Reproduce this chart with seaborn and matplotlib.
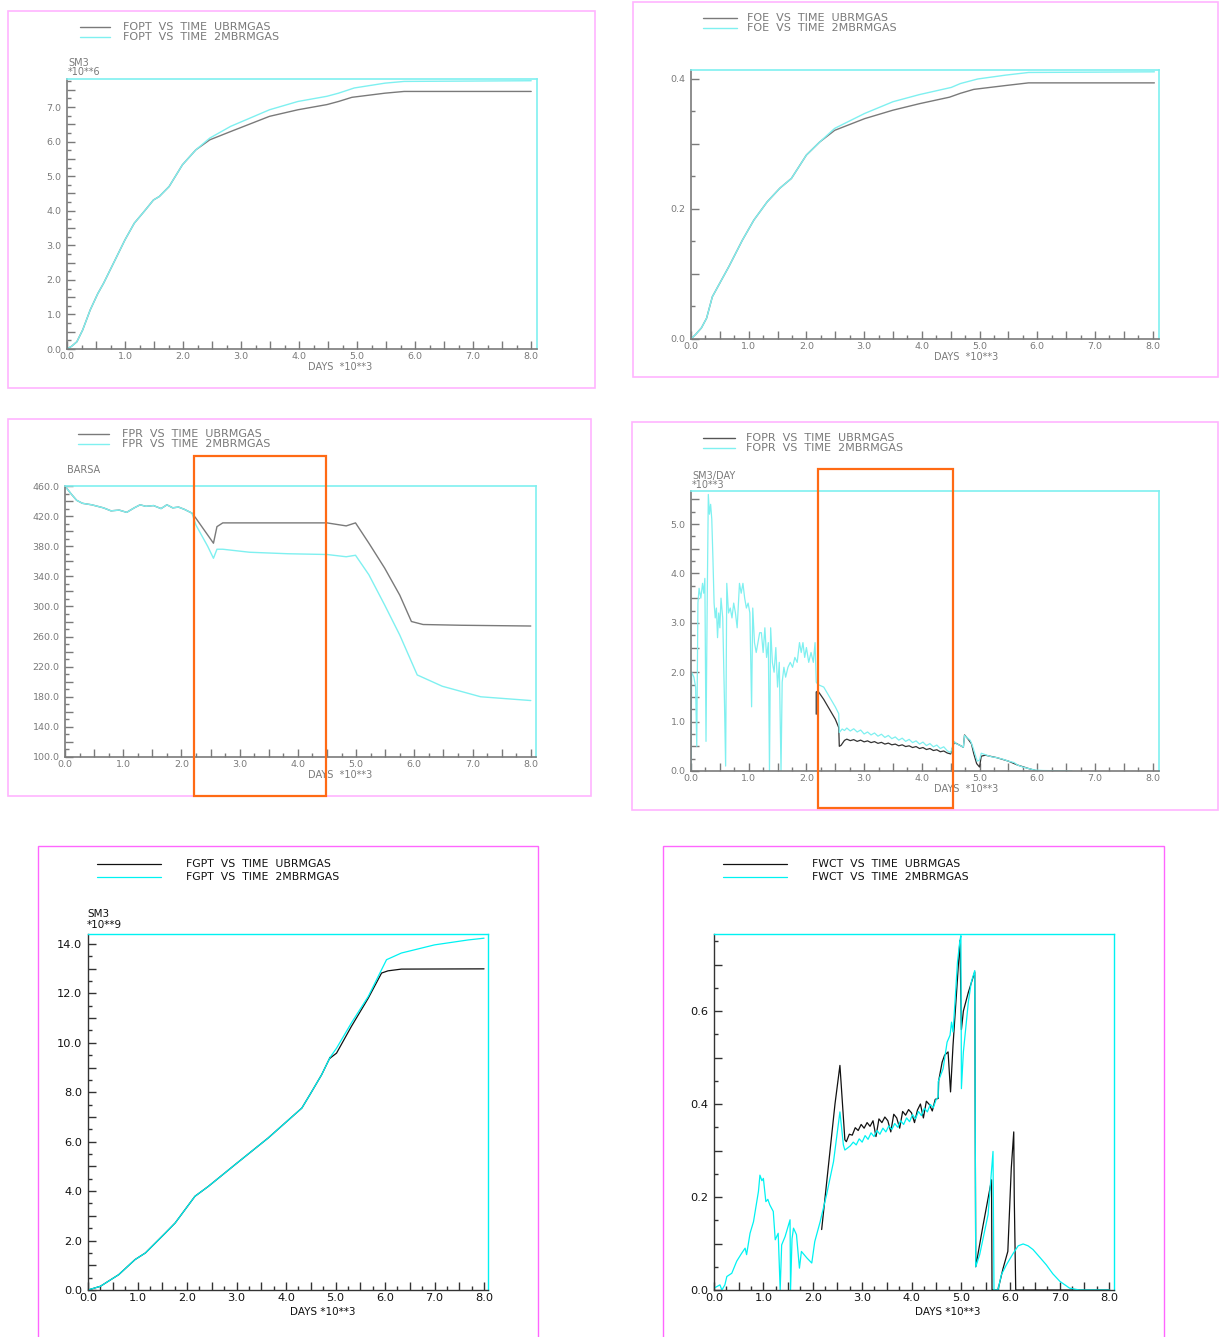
import matplotlib
matplotlib.use("Agg")
import matplotlib.pyplot as plt
import seaborn as sns
from matplotlib.ticker import MultipleLocator, FuncFormatter
from matplotlib.patches import Rectangle
from matplotlib.lines import Line2D

sns.set_style("white")
plt.rcParams["font.family"] = ["DejaVu Sans"]

# ---------------- data (time in 10**3 days) ----------------
# FOPT, SM3 *10**6
fopt_early_t = [0, 0.08, 0.17, 0.27, 0.40, 0.53, 0.63, 0.83, 1.00, 1.16, 1.33, 1.49, 1.59, 1.76, 1.99, 2.22]
fopt_early = [0, 0.08, 0.21, 0.55, 1.13, 1.60, 1.90, 2.58, 3.16, 3.64, 3.98, 4.31, 4.41, 4.70, 5.33, 5.76]
fopt_ub_t = [2.46, 2.82, 3.49, 3.98, 4.48, 4.68, 4.91, 5.48, 5.81, 8.0]
fopt_ub = [6.05, 6.29, 6.73, 6.92, 7.07, 7.16, 7.28, 7.40, 7.45, 7.45]
fopt_2m_t = [2.46, 2.82, 3.49, 3.98, 4.48, 4.68, 4.95, 5.48, 5.81, 8.0]
fopt_2m = [6.10, 6.44, 6.92, 7.16, 7.31, 7.40, 7.55, 7.69, 7.74, 7.76]

# FOE, fraction
foe_early_t = [0, 0.08, 0.18, 0.27, 0.37, 0.53, 0.66, 0.89, 1.09, 1.32, 1.54, 1.74, 2.00, 2.23]
foe_early = [0, 0.007, 0.017, 0.032, 0.065, 0.091, 0.112, 0.152, 0.183, 0.211, 0.232, 0.247, 0.283, 0.303]
foe_ub_t = [2.49, 3.01, 3.50, 3.96, 4.48, 4.67, 4.90, 5.46, 5.85, 8.03]
foe_ub = [0.321, 0.339, 0.352, 0.362, 0.372, 0.378, 0.384, 0.390, 0.394, 0.394]
foe_2m_t = [2.49, 3.01, 3.50, 3.96, 4.51, 4.67, 4.97, 5.46, 5.85, 8.03]
foe_2m = [0.324, 0.347, 0.365, 0.376, 0.387, 0.393, 0.400, 0.406, 0.410, 0.411]

# FPR, BARSA
fpr_early_t = [0, 0.10, 0.20, 0.30, 0.46, 0.66, 0.79, 0.93, 1.06, 1.19, 1.29, 1.39,
               1.52, 1.65, 1.75, 1.85, 1.95, 2.05, 2.18]
fpr_early = [460, 450, 441, 437, 435, 431, 427, 428, 425, 431, 435, 433,
             434, 430, 435, 431, 432, 429, 424]
fpr_ub_t = [2.25, 2.55, 2.61, 2.71, 3.50, 4.50, 4.83, 4.99, 5.22, 5.49, 5.75, 5.95, 6.15, 6.81, 8.0]
fpr_ub = [417, 384, 406, 411, 411, 411, 407, 411, 384, 351, 315, 280, 276, 275, 274]
fpr_2m_t = [2.25, 2.45, 2.55, 2.61, 2.71, 3.17, 3.83, 4.50, 4.83, 4.99, 5.22, 5.49,
            5.75, 6.05, 6.48, 7.14, 8.0]
fpr_2m = [408, 380, 364, 376, 376, 372, 370, 369, 366, 368, 342, 302,
          262, 209, 194, 180, 175]

# FOPR, SM3/DAY *10**3
fopr_2m_t = [0.00, 0.01, 0.05, 0.08, 0.10, 0.12, 0.14, 0.17, 0.20, 0.22, 0.24, 0.26, 0.28, 0.30,
             0.32, 0.34, 0.36, 0.38, 0.40, 0.42, 0.44, 0.46, 0.48, 0.50, 0.52, 0.55, 0.58, 0.60,
             0.62, 0.65, 0.68, 0.71, 0.74, 0.77, 0.80, 0.84, 0.87, 0.90, 0.93, 0.96, 0.99, 1.02,
             1.05, 1.07, 1.10, 1.13, 1.16, 1.19, 1.22, 1.25, 1.28, 1.31, 1.34, 1.36, 1.38, 1.41,
             1.44, 1.47, 1.50, 1.53, 1.56, 1.58, 1.61, 1.64, 1.68, 1.72, 1.76, 1.80, 1.84, 1.88,
             1.91, 1.94, 1.97, 2.00, 2.04, 2.08, 2.12, 2.15, 2.17, 2.20, 2.30, 2.40, 2.50, 2.56,
             2.57, 2.62, 2.66,
             2.70, 2.76, 2.82, 2.88, 2.94, 3.00, 3.06, 3.12, 3.18, 3.24, 3.30, 3.36, 3.42, 3.48,
             3.54, 3.60, 3.66, 3.72, 3.78, 3.84, 3.90, 3.96, 4.02, 4.08, 4.14, 4.20, 4.26, 4.32,
             4.38, 4.44, 4.50,
             4.56, 4.60, 4.66, 4.72, 4.74, 4.78, 4.84, 4.88, 4.92, 4.96, 5.00, 5.03, 5.10, 5.20,
             5.30, 5.40, 5.50, 5.60, 5.66, 5.75, 5.85, 5.95, 6.10, 6.60]
fopr_2m = [0.0, 2.0, 1.9, 1.7, 0.5, 3.4, 3.7, 3.5, 3.8, 3.6, 3.9, 0.6, 3.3, 5.6,
           5.2, 5.4, 5.1, 4.3, 3.4, 3.1, 3.3, 2.7, 3.2, 2.9, 3.5, 3.1, 1.4, 0.1,
           3.8, 3.2, 3.3, 3.1, 3.4, 3.2, 2.9, 3.8, 3.6, 3.8, 3.5, 3.3, 3.4, 3.2,
           1.3, 3.3, 2.6, 2.4, 2.6, 2.8, 2.8, 2.4, 2.9, 2.3, 2.6, 0.0, 2.9, 2.2,
           2.0, 2.5, 1.7, 2.2, 0.0, 1.8, 2.1, 1.9, 2.1, 2.2, 2.1, 2.3, 2.2, 2.6,
           2.4, 2.6, 2.3, 2.5, 2.2, 2.4, 2.2, 2.6, 1.8, 1.75, 1.70, 1.50, 1.30, 1.16,
           0.78, 0.85, 0.82,
           0.870, 0.810, 0.855, 0.790, 0.830, 0.750, 0.790, 0.730, 0.770, 0.705, 0.745, 0.680,
           0.720, 0.655, 0.690, 0.625, 0.665, 0.600, 0.640, 0.575, 0.610, 0.545, 0.585, 0.515,
           0.555, 0.490, 0.525, 0.455, 0.490, 0.410, 0.370,
           0.60, 0.55, 0.52, 0.48, 0.72, 0.68, 0.62, 0.50, 0.35, 0.20, 0.22, 0.36, 0.33, 0.29,
           0.27, 0.24, 0.20, 0.17, 0.12, 0.08, 0.05, 0.02, 0.01, 0.0]
fopr_ub_t = [2.17, 2.17, 2.20, 2.30, 2.40, 2.50, 2.56, 2.57, 2.60, 2.66,
             2.70, 2.76, 2.82, 2.88, 2.94, 3.00, 3.06, 3.12, 3.18, 3.24, 3.30, 3.36, 3.42, 3.48,
             3.54, 3.60, 3.66, 3.72, 3.78, 3.84, 3.90, 3.96, 4.02, 4.08, 4.14, 4.20, 4.26, 4.32,
             4.38, 4.44, 4.50,
             4.56, 4.66, 4.72, 4.74, 4.80, 4.86, 4.90, 4.95, 5.00, 5.03, 5.10, 5.30, 5.50, 5.66,
             5.85, 6.00, 6.10]
fopr_ub = [1.15, 1.60, 1.62, 1.45, 1.25, 1.05, 0.88, 0.50, 0.52, 0.62,
           0.645, 0.615, 0.635, 0.600, 0.625, 0.590, 0.610, 0.575, 0.595, 0.560, 0.580, 0.545,
           0.565, 0.530, 0.545, 0.510, 0.530, 0.495, 0.510, 0.475, 0.495, 0.455, 0.475, 0.435,
           0.455, 0.415, 0.430, 0.390, 0.405, 0.365, 0.345,
           0.58, 0.52, 0.48, 0.73, 0.65, 0.55, 0.35, 0.15, 0.08, 0.30, 0.32, 0.27, 0.20, 0.12,
           0.05, 0.0, 0.0]

# FGPT, SM3 *10**9
fgpt_early_t = [0, 0.25, 0.62, 0.95, 1.16, 1.56, 1.76, 2.16, 2.43, 2.97, 3.64, 4.32, 4.50, 4.72, 4.89]
fgpt_early = [0, 0.15, 0.62, 1.23, 1.50, 2.30, 2.71, 3.79, 4.19, 5.07, 6.15, 7.36, 7.96, 8.71, 9.41]
fgpt_ub_t = [4.89, 5.02, 5.32, 5.66, 5.93, 6.06, 6.33, 8.0]
fgpt_ub = [9.38, 9.58, 10.66, 11.80, 12.82, 12.91, 12.98, 12.99]
fgpt_2m_t = [5.02, 5.32, 5.66, 6.03, 6.33, 7.00, 7.68, 8.0]
fgpt_2m = [9.78, 10.80, 11.87, 13.36, 13.63, 13.96, 14.16, 14.23]

# FWCT, fraction
fwct_2m_t = [0.00, 0.12, 0.16, 0.22, 0.26, 0.36, 0.46, 0.56, 0.63, 0.66, 0.73, 0.80, 0.90, 0.93,
             0.97, 1.00, 1.05, 1.09, 1.13, 1.20, 1.24, 1.30, 1.34, 1.37, 1.44, 1.54, 1.55, 1.58,
             1.61, 1.67, 1.73, 1.77, 1.88, 1.98, 2.04, 2.15, 2.28, 2.42, 2.55, 2.62, 2.65, 2.70,
             2.76, 2.82, 2.88, 2.94, 3.00, 3.06, 3.12, 3.18, 3.24, 3.30, 3.36, 3.42, 3.48, 3.54,
             3.60, 3.66, 3.72, 3.78, 3.84, 3.90, 3.96, 4.02, 4.08, 4.14, 4.20, 4.26, 4.32, 4.38,
             4.44, 4.50,
             4.54, 4.54, 4.64, 4.72, 4.78, 4.81, 4.84, 4.88, 4.93, 4.98, 5.00, 5.01, 5.05, 5.15,
             5.21, 5.28, 5.30, 5.38, 5.55, 5.65, 5.67, 5.75, 5.82, 5.92, 6.06, 6.16, 6.26, 6.36,
             6.46, 6.60, 6.73, 6.86, 7.00, 7.20, 7.40, 8.01]
fwct_2m = [0.004, 0.011, 0.000, 0.011, 0.029, 0.036, 0.062, 0.079, 0.090, 0.076, 0.122, 0.147, 0.212, 0.247,
           0.235, 0.240, 0.190, 0.195, 0.183, 0.169, 0.108, 0.122, 0.000, 0.097, 0.115, 0.151, 0.000, 0.110,
           0.133, 0.119, 0.047, 0.083, 0.069, 0.058, 0.104, 0.147, 0.205, 0.276, 0.383, 0.312, 0.301, 0.305,
           0.310, 0.318, 0.312, 0.325, 0.318, 0.332, 0.324, 0.338, 0.330, 0.343, 0.335, 0.348, 0.340, 0.353,
           0.345, 0.358, 0.350, 0.364, 0.356, 0.370, 0.362, 0.377, 0.368, 0.384, 0.375, 0.391, 0.383, 0.399,
           0.392, 0.410,
           0.415, 0.448, 0.476, 0.533, 0.548, 0.576, 0.555, 0.619, 0.705, 0.752, 0.762, 0.433, 0.512, 0.619,
           0.662, 0.687, 0.050, 0.076, 0.162, 0.298, 0.000, 0.000, 0.033, 0.054, 0.079, 0.095, 0.099, 0.095,
           0.087, 0.070, 0.054, 0.035, 0.019, 0.004, 0.000, 0.000]
fwct_ub_t = [2.18, 2.30, 2.45, 2.55, 2.65, 2.68,
             2.74, 2.80, 2.86, 2.92, 2.98, 3.04, 3.10, 3.16, 3.22, 3.28, 3.34, 3.40, 3.46, 3.52,
             3.58, 3.64, 3.70, 3.76, 3.82, 3.88, 3.94, 4.00, 4.06, 4.12, 4.18, 4.24, 4.30, 4.36,
             4.42, 4.48,
             4.54, 4.55, 4.62, 4.67, 4.74, 4.79, 4.84, 4.93, 4.98, 5.01, 5.05, 5.15, 5.28, 5.30,
             5.45, 5.62, 5.63, 5.75, 5.85, 5.95, 6.02, 6.07, 6.08, 6.11, 8.01]
fwct_ub = [0.130, 0.250, 0.400, 0.483, 0.323, 0.319,
           0.335, 0.333, 0.349, 0.343, 0.356, 0.348, 0.360, 0.352, 0.364, 0.330, 0.368, 0.360, 0.372, 0.364,
           0.340, 0.378, 0.370, 0.348, 0.384, 0.376, 0.388, 0.381, 0.360, 0.387, 0.400, 0.370, 0.406, 0.399,
           0.385, 0.410,
           0.412, 0.450, 0.490, 0.505, 0.512, 0.426, 0.526, 0.669, 0.752, 0.560, 0.600, 0.640, 0.684, 0.050,
           0.140, 0.237, 0.000, 0.000, 0.045, 0.083, 0.262, 0.340, 0.200, 0.000, 0.000]

# ---------------- figure layout (pixel based) ----------------
W, H = 1220, 1337
fig = plt.figure(figsize=(W / 100, H / 100), dpi=100)

GRAY = "#7a7a7a"
CYAN_SOFT = "#7ff0f0"
CYAN = "#00f2f2"
PINK_SOFT = "#ffb4ff"
PINK = "#ff66ff"
ORANGE = "#ff6a14"


def fx(x):
    return x / W


def fy(y):
    return 1 - y / H


def px_axes(l, t, r, b):
    ax = fig.add_axes([fx(l), fy(b), (r - l) / W, (b - t) / H])
    ax.patch.set_alpha(0)
    return ax


def frame(l, t, r, b, color, lw, z=0):
    fig.add_artist(Rectangle((fx(l), fy(b)), (r - l) / W, (b - t) / H,
                             transform=fig.transFigure, fill=False,
                             edgecolor=color, lw=lw, zorder=z))


def ftext(x, y, s, **kw):
    fig.text(fx(x), fy(y), s, **kw)


def legend(x0, x1, xt, y1, y2, name, c1, c2, tc, fs, lw):
    for y, c, run in ((y1, c1, "UBRMGAS"), (y2, c2, "2MBRMGAS")):
        fig.add_artist(Line2D([fx(x0), fx(x1)], [fy(y), fy(y)], color=c, lw=lw,
                              transform=fig.transFigure))
        ftext(xt, y, f"{name}  VS  TIME  {run}", color=tc, fontsize=fs,
              va="center", ha="left")


def style(ax, xlim, ylim, ymaj, ymin, ystep, axis_c, text_c, fs, lw, yoff=0.0):
    ax.set_xlim(*xlim)
    ax.set_ylim(*ylim)
    ax.set_xlabel("")
    ax.set_ylabel("")
    ax.xaxis.set_major_locator(MultipleLocator(0.5))
    ax.xaxis.set_minor_locator(MultipleLocator(0.25))
    ax.xaxis.set_major_formatter(FuncFormatter(
        lambda v, p: f"{v:.1f}" if abs(v - round(v)) < 1e-6 else ""))
    ax.yaxis.set_major_locator(MultipleLocator(ymaj))
    ax.yaxis.set_minor_locator(MultipleLocator(ymin))

    def ylab(v, p):
        k = (v - yoff) / ystep
        return f"{v:.1f}" if abs(k - round(k)) < 1e-6 else ""

    ax.yaxis.set_major_formatter(FuncFormatter(ylab))
    for side in ("left", "bottom"):
        ax.spines[side].set_color(axis_c)
        ax.spines[side].set_linewidth(lw)
    for side in ("top", "right"):
        ax.spines[side].set_color(CYAN_SOFT if axis_c == GRAY else CYAN)
        ax.spines[side].set_linewidth(lw)
    ax.tick_params(axis="both", which="both", direction="in", color=axis_c,
                   labelcolor=text_c, labelsize=fs, width=1.0,
                   top=False, right=False, left=True, bottom=True)
    ax.tick_params(axis="both", which="major", length=5.5)
    ax.tick_params(axis="both", which="minor", length=3.0)
    ax.tick_params(axis="x", pad=2)
    ax.tick_params(axis="y", pad=4)


def draw(ax, t, v, color, lw):
    sns.lineplot(x=t, y=v, ax=ax, color=color, lw=lw, estimator=None,
                 sort=False, legend=False)


TOP_FS = 6.8
TOP_LW = 1.0
LEG_FS = 8

# -------- FOPT --------
frame(8, 11, 595, 388, PINK_SOFT, 1.2)
legend(80, 110, 123, 27, 37, "FOPT", GRAY, CYAN_SOFT, GRAY, LEG_FS, 1.0)
ax1 = px_axes(67, 79, 537, 349)
draw(ax1, fopt_early_t + fopt_ub_t, fopt_early + fopt_ub, GRAY, TOP_LW)
draw(ax1, fopt_early_t + fopt_2m_t, fopt_early + fopt_2m, CYAN_SOFT, TOP_LW)
style(ax1, (0, 8.1), (0, 7.81), 0.5, 0.25, 1.0, GRAY, GRAY, TOP_FS, 1.2)
ftext(68, 63, "SM3", color=GRAY, fontsize=7, va="center")
ftext(68, 72, "*10**6", color=GRAY, fontsize=7, va="center")
ftext(340, 367, "DAYS  *10**3", color=GRAY, fontsize=7, ha="center", va="center")

# -------- FOE --------
frame(633, 2, 1218, 377, PINK_SOFT, 1.2)
legend(703, 737, 747, 18, 28, "FOE", GRAY, CYAN_SOFT, GRAY, LEG_FS, 1.0)
ax2 = px_axes(691, 70, 1159, 339)
draw(ax2, foe_early_t + foe_ub_t, foe_early + foe_ub, GRAY, TOP_LW)
draw(ax2, foe_early_t + foe_2m_t, foe_early + foe_2m, CYAN_SOFT, TOP_LW)
style(ax2, (0, 8.11), (0, 0.4138), 0.1, 0.05, 0.2, GRAY, GRAY, TOP_FS, 1.2)
ftext(966, 357, "DAYS  *10**3", color=GRAY, fontsize=7, ha="center", va="center")

# -------- FPR --------
frame(8, 419, 591, 796, PINK_SOFT, 1.2)
legend(78, 109, 122, 434, 444, "FPR", GRAY, CYAN_SOFT, GRAY, LEG_FS, 1.0)
ax3 = px_axes(65, 486, 536, 757)
draw(ax3, fpr_early_t + fpr_ub_t, fpr_early + fpr_ub, GRAY, TOP_LW)
draw(ax3, fpr_early_t + fpr_2m_t, fpr_early + fpr_2m, CYAN_SOFT, TOP_LW)
style(ax3, (0, 8.09), (100, 460), 20, 10, 40, GRAY, GRAY, TOP_FS, 1.2, yoff=100)
ftext(67, 470, "BARSA", color=GRAY, fontsize=7, va="center")
ftext(340, 775, "DAYS  *10**3", color=GRAY, fontsize=7, ha="center", va="center")
frame(194, 456, 326, 796, ORANGE, 1.6, z=10)

# -------- FOPR --------
frame(632, 422, 1218, 810, PINK_SOFT, 1.2)
legend(703, 735, 746, 438, 448, "FOPR", "#555555", CYAN_SOFT, GRAY, LEG_FS, 1.0)
ax4 = px_axes(691, 491, 1159, 771)
draw(ax4, fopr_ub_t, fopr_ub, "#333333", 0.9)
draw(ax4, fopr_2m_t, fopr_2m, CYAN_SOFT, 0.9)
style(ax4, (0, 8.11), (0, 5.67), 0.5, 0.25, 1.0, GRAY, GRAY, TOP_FS, 1.2)
ftext(692, 476, "SM3/DAY", color=GRAY, fontsize=7, va="center")
ftext(692, 485, "*10**3", color=GRAY, fontsize=7, va="center")
ftext(966, 789, "DAYS  *10**3", color=GRAY, fontsize=7, ha="center", va="center")
frame(818, 469, 953, 808, ORANGE, 1.6, z=10)

# -------- FGPT --------
BOT_FS = 8.2
frame(38, 846, 538, 1345, PINK, 1.0)
legend(97, 161, 186, 864, 877, "FGPT", "#111111", CYAN, "#111111", 7.8, 0.9)
ax5 = px_axes(88, 934, 488, 1290)
draw(ax5, fgpt_early_t + fgpt_ub_t, fgpt_early + fgpt_ub, "#111111", 0.9)
draw(ax5, fgpt_early_t + fgpt_2m_t, fgpt_early + fgpt_2m, CYAN, 0.9)
style(ax5, (0, 8.08), (0, 14.4), 1.0, 0.5, 2.0, "#333333", "#111111", BOT_FS, 1.0)
ftext(87, 914, "SM3", color="#111111", fontsize=7.5, va="center")
ftext(87, 925, "*10**9", color="#111111", fontsize=7.5, va="center")
ftext(323, 1312, "DAYS *10**3", color="#111111", fontsize=7.5, ha="center", va="center")

# -------- FWCT --------
frame(663, 846, 1164, 1345, PINK, 1.0)
legend(723, 787, 812, 864, 877, "FWCT", "#111111", CYAN, "#111111", 7.8, 0.9)
ax6 = px_axes(714, 934, 1114, 1290)
draw(ax6, fwct_ub_t, fwct_ub, "#111111", 0.9)
draw(ax6, fwct_2m_t, fwct_2m, CYAN, 0.9)
style(ax6, (0, 8.1), (0, 0.7656), 0.1, 0.05, 0.2, "#333333", "#111111", BOT_FS, 1.0)
ftext(948, 1312, "DAYS *10**3", color="#111111", fontsize=7.5, ha="center", va="center")

fig.savefig("out.png", dpi=100, facecolor="white")
